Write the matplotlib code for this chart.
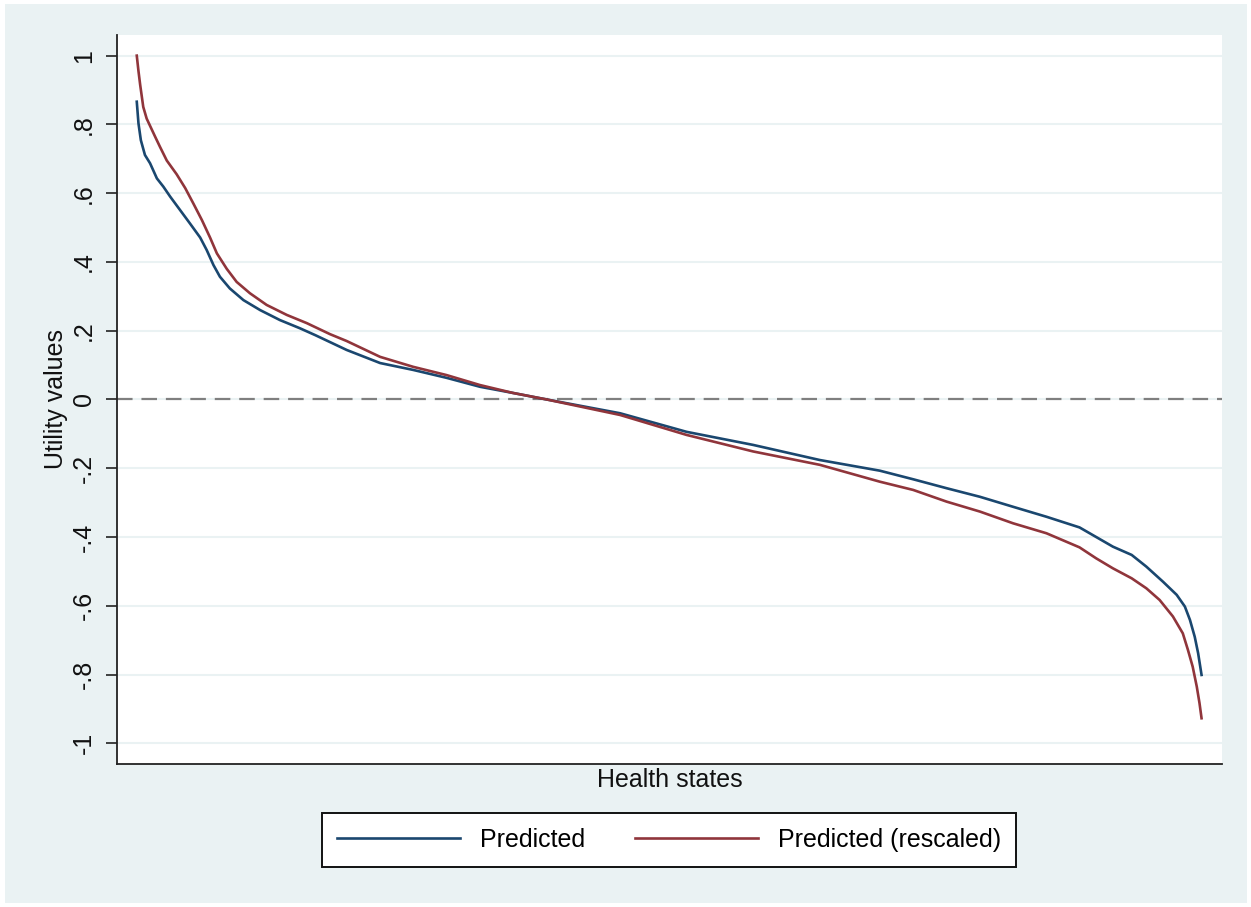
import matplotlib
matplotlib.use("Agg")
import matplotlib.pyplot as plt
from matplotlib.patches import Rectangle

plt.rcParams['font.family'] = ['Liberation Sans', 'DejaVu Sans']

# Health states ordered by predicted utility (rank 1 .. 3125)
rank_pred = [1, 6, 13, 25, 40, 60, 79, 99, 128, 157, 187, 206, 226, 245, 274,
             314, 363, 421, 480, 525, 617, 715, 812, 910, 1008, 1105, 1204,
             1419, 1614, 1809, 2005, 2181, 2279, 2377, 2475, 2572, 2670, 2767,
             2816, 2865, 2920, 2963, 3012, 3052, 3076, 3091, 3105, 3115, 3125]
utility_pred = [0.866, 0.803, 0.754, 0.711, 0.687, 0.643, 0.619, 0.590, 0.551,
                0.512, 0.471, 0.435, 0.391, 0.357, 0.323, 0.289, 0.260, 0.231,
                0.207, 0.187, 0.144, 0.106, 0.086, 0.063, 0.037, 0.019, 0.000,
                -0.040, -0.094, -0.132, -0.176, -0.207, -0.232, -0.258, -0.283,
                -0.312, -0.341, -0.372, -0.400, -0.428, -0.452, -0.486, -0.530,
                -0.568, -0.602, -0.641, -0.690, -0.738, -0.801]

rank_resc = [1, 6, 11, 20, 30, 55, 69, 89, 118, 143, 167, 192, 216, 236, 265,
             294, 333, 382, 441, 500, 568, 617, 715, 812, 910, 1008, 1105, 1204,
             1419, 1614, 1809, 2005, 2181, 2279, 2377, 2475, 2572, 2670, 2767,
             2816, 2865, 2920, 2963, 3002, 3041, 3070, 3085, 3099, 3111, 3119,
             3125]
utility_resc = [1.000, 0.955, 0.915, 0.851, 0.817, 0.764, 0.735, 0.695, 0.655,
                0.615, 0.570, 0.522, 0.471, 0.425, 0.380, 0.342, 0.309, 0.275,
                0.246, 0.222, 0.190, 0.170, 0.124, 0.095, 0.071, 0.042, 0.019,
                0.000, -0.045, -0.103, -0.151, -0.190, -0.239, -0.263, -0.297,
                -0.326, -0.360, -0.389, -0.430, -0.462, -0.491, -0.520, -0.549,
                -0.583, -0.631, -0.680, -0.728, -0.777, -0.835, -0.883, -0.927]

ytick_values = [1.0, 0.8, 0.6, 0.4, 0.2, 0.0, -0.2, -0.4, -0.6, -0.8, -1.0]
ytick_labels = ["1", ".8", ".6", ".4", ".2", "0", "-.2", "-.4", "-.6", "-.8", "-1"]

series_names = ["Predicted", "Predicted (rescaled)"]

BG = "#EAF2F3"
NAVY = "#1a476f"
MAROON = "#90353b"
FS = 18

W, H = 1251, 907
fig = plt.figure(figsize=(W / 100, H / 100), dpi=100, facecolor="white")
fig.patches.append(Rectangle((5 / W, 4 / H), (W - 9) / W, (H - 8) / H,
                             transform=fig.transFigure, facecolor=BG,
                             edgecolor="none", zorder=-10))

ax = fig.add_axes([117 / W, 1 - 764 / H, (1222 - 117) / W, (764 - 35) / H])
ax.set_facecolor("white")

ax.plot(rank_pred, utility_pred, color=NAVY, lw=1.9, label=series_names[0],
        solid_joinstyle="round", zorder=3)
ax.plot(rank_resc, utility_resc, color=MAROON, lw=1.9, label=series_names[1],
        solid_joinstyle="round", zorder=3)

ax.axhline(0, color="#7f7f7f", lw=1.6, dashes=(7, 4), zorder=2)

ax.set_xlim(-57, 3185)
ax.set_ylim(-1.06, 1.06)

ax.set_yticks(ytick_values)
ax.set_yticklabels(ytick_labels, rotation=90, va="center")
ax.set_xticks([])
ax.yaxis.grid(True, color=BG, lw=1.5, zorder=0)
ax.set_axisbelow(True)
ax.tick_params(axis="y", length=8, width=1.2, pad=7, labelsize=FS,
               color="#222222", labelcolor="#111111")

for side in ("top", "right"):
    ax.spines[side].set_visible(False)
for side in ("left", "bottom"):
    ax.spines[side].set_color("#222222")
    ax.spines[side].set_linewidth(1.3)

ax.set_ylabel("Utility values", fontsize=FS, labelpad=3, color="#111111")
ax.set_xlabel("Health states", fontsize=FS, labelpad=3, color="#111111")

leg = fig.legend(loc="center", bbox_to_anchor=(669 / W, 1 - 840 / H),
                 ncol=2, fontsize=FS, frameon=True, fancybox=False,
                 edgecolor="#111111", facecolor="white", framealpha=1,
                 handlelength=4.9, handletextpad=0.8, columnspacing=2.0,
                 borderpad=0.6)
leg.get_frame().set_linewidth(1.4)

fig.savefig("out.png", dpi=100, facecolor=fig.get_facecolor())
